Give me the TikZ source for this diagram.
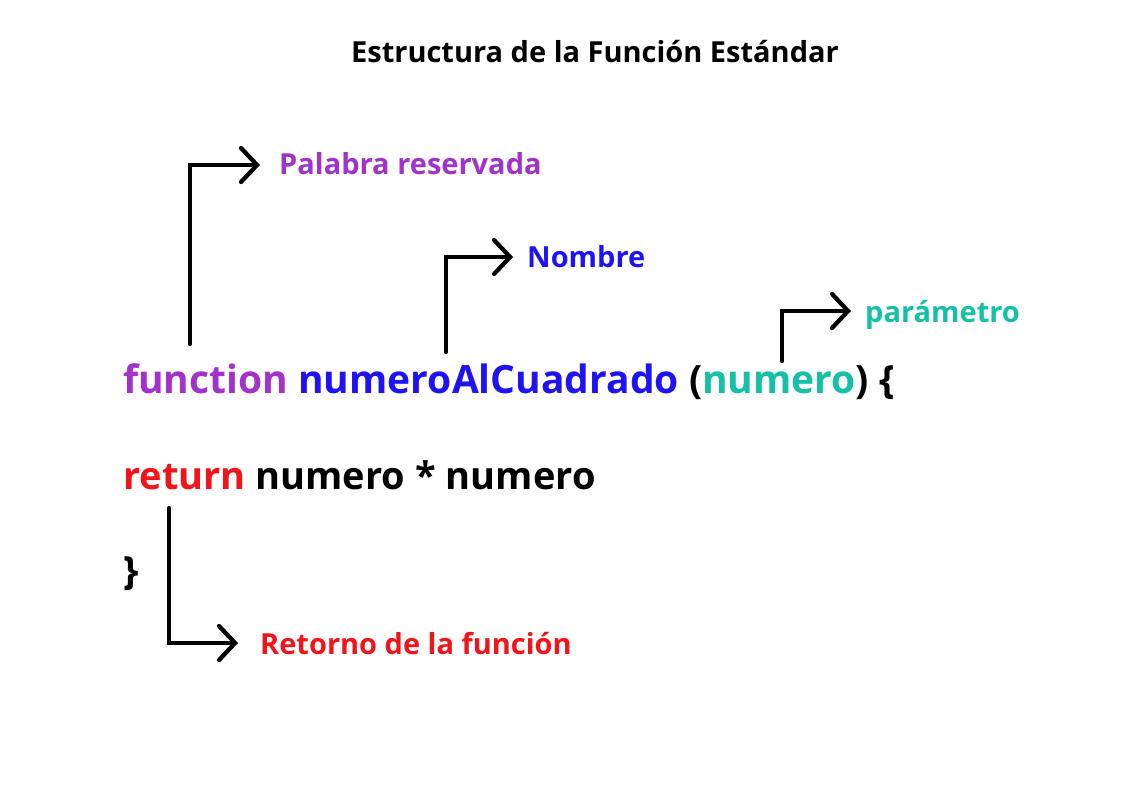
\documentclass[tikz,border=0pt]{standalone}
\usepackage{fontspec}
\setmainfont{Open Sans}
\usetikzlibrary{arrows.meta}
\definecolor{kwpurple}{HTML}{A332CB}
\definecolor{fnblue}{HTML}{1F12F3}
\definecolor{parteal}{HTML}{14C1A7}
\definecolor{retred}{HTML}{F31419}
\tikzset{
  codetxt/.style={anchor=base west, inner sep=0pt, font=\bfseries\fontsize{39}{44}\selectfont},
  labtxt/.style={anchor=base west, inner sep=0pt, font=\bfseries\fontsize{29}{34}\selectfont},
  pointer/.style={line width=4.3pt, line cap=round, line join=miter, -{Straight Barb[length=16pt, width=34pt, line cap=round]}},
}
\begin{document}
\begin{tikzpicture}[x=1pt, y=-1pt]
\useasboundingbox (0,0) rectangle (1141,793);
\fill[white] (0,0) rectangle (1141,793);

\node[anchor=base, inner sep=0pt, font=\bfseries\fontsize{29}{34}\selectfont] (title) at (595,62) {Estructura de la Función Estándar};

\node[codetxt] (line1) at (123,393) {\textcolor{kwpurple}{function} \textcolor{fnblue}{numeroAlCuadrado} (\textcolor{parteal}{numero}) \{};
\node[codetxt, font=\bfseries\fontsize{38}{44}\selectfont] (line2) at (123,489) {\textcolor{retred}{return} numero * numero};
\node[codetxt] (line3) at (123,584) {\}};

\node[labtxt, text=kwpurple] (lpal) at (279,174) {Palabra reservada};
\node[labtxt, text=fnblue] (lnom) at (527,267) {Nombre};
\node[labtxt, text=parteal] (lpar) at (865,322) {parámetro};
\node[labtxt, text=retred] (lret) at (260,654) {Retorno de la función};

\coordinate (s1) at (190,344);
\coordinate (s2) at (446,352);
\coordinate (s3) at (782,361);
\coordinate (s4) at (169,508);

\draw[pointer] (s1) |- ([xshift=-19pt, yshift=9pt]lpal.base west);
\draw[pointer] (s2) |- ([xshift=-14pt, yshift=10pt]lnom.base west);
\draw[pointer] (s3) |- ([xshift=-14pt, yshift=11pt]lpar.base west);
\draw[pointer] (s4) |- ([xshift=-22pt, yshift=11pt]lret.base west);
\end{tikzpicture}
\end{document}
